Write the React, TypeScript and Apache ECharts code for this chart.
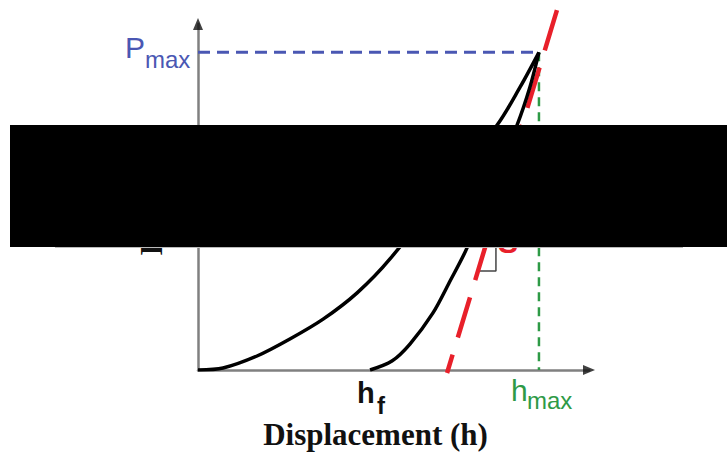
import React, { useEffect, useRef } from "react";
import * as echarts from "echarts";

// Loading curve (displacement h, load P) in relative units
const loadH = [0, 6.4, 15.1, 23.5, 32.0, 40.7, 49.1, 76.5, 82.4, 87.2];
const loadP = [0, 0.58, 4.05, 8.96, 14.7, 22.3, 32.1, 70.8, 81.8, 91.8];
// Unloading curve
const unloadH = [44.0, 49.6, 54.2, 60.1, 64.5, 68.8, 81.6, 84.9, 87.2];
const unloadP = [0, 2.6, 7.5, 16.5, 25.8, 35.3, 70.8, 81.8, 91.8];
// Tangent (stiffness S) line
const tangentH = [91.8, 63.7];
const tangentP = [104.0, -0.87];
// Key values
const hMax = 87.2;
const pMax = 91.8;
const axisMax = 100;
// Slope triangle
const triH = [76.2, 76.2, 71.9];
const triP = [46.2, 28.6, 28.6];

const zip = (a: number[], b: number[]) => a.map((v, i) => [v, b[i]]);

const SANS = "'Liberation Sans', Arial, Helvetica, sans-serif";
const SERIF = "'Liberation Serif', 'Times New Roman', serif";
const BLUE = "#4a57b3";
const GREEN = "#2e9a46";
const RED = "#e8202a";

export default function App() {
  const ref = useRef<HTMLDivElement>(null);
  useEffect(() => {
    if (!ref.current) return;
    const chart = echarts.init(ref.current, null, { renderer: "svg" });
    const axisCommon = {
      type: "value" as const,
      min: 0,
      max: axisMax,
      axisLabel: { show: false },
      axisTick: { show: false },
      splitLine: { show: false },
      axisLine: { show: true, lineStyle: { color: "#808080", width: 2.5 } },
    };
    chart.setOption({
      animation: false,
      backgroundColor: "#ffffff",
      grid: { left: 198, right: 138, top: 24, bottom: 82 },
      xAxis: { ...axisCommon },
      yAxis: { ...axisCommon },
      series: [
        {
          name: "Pmax",
          type: "line",
          data: [[0, pMax], [hMax, pMax]],
          symbol: "none",
          lineStyle: { color: BLUE, width: 3, type: [12, 7] },
          z: 3,
        },
        {
          name: "hmax",
          type: "line",
          data: [[hMax, pMax], [hMax, 0]],
          symbol: "none",
          lineStyle: { color: GREEN, width: 2.5, type: [9, 6] },
          z: 3,
        },
        {
          name: "Tangent",
          type: "line",
          data: zip(tangentH, tangentP),
          symbol: "none",
          clip: false,
          lineStyle: { color: RED, width: 4.5, type: [42, 18] },
          z: 4,
        },
        {
          name: "Slope",
          type: "line",
          data: zip(triH, triP),
          symbol: "none",
          lineStyle: { color: "#444", width: 1.5 },
          z: 3,
        },
        {
          name: "Loading",
          type: "line",
          data: zip(loadH, loadP),
          symbol: "none",
          smooth: 0.3,
          lineStyle: { color: "#000", width: 3.5 },
          z: 5,
        },
        {
          name: "Unloading",
          type: "line",
          data: zip(unloadH, unloadP),
          symbol: "none",
          smooth: 0.3,
          lineStyle: { color: "#000", width: 3.5 },
          z: 5,
        },
        {
          name: "xArrow",
          type: "scatter",
          data: [[axisMax, 0]],
          symbol: "triangle",
          symbolSize: [10, 12],
          symbolRotate: -90,
          clip: false,
          itemStyle: { color: "#111" },
          z: 6,
        },
        {
          name: "yArrow",
          type: "scatter",
          data: [[0, axisMax]],
          symbol: "triangle",
          symbolSize: [10, 12],
          clip: false,
          itemStyle: { color: "#111" },
          z: 6,
        },
      ],
      graphic: [
        { type: "text", z: 10, x: 125, y: 47, style: { text: "P", font: `30px ${SANS}`, fill: BLUE, align: "left", verticalAlign: "middle" } },
        { type: "text", z: 10, x: 145, y: 59, style: { text: "max", font: `24px ${SANS}`, fill: BLUE, align: "left", verticalAlign: "middle" } },
        { type: "text", z: 10, x: 357, y: 393, style: { text: "h", font: `bold 29px ${SANS}`, fill: "#111", align: "left", verticalAlign: "middle" } },
        { type: "text", z: 10, x: 377, y: 405, style: { text: "f", font: `bold 24px ${SANS}`, fill: "#111", align: "left", verticalAlign: "middle" } },
        { type: "text", z: 10, x: 511, y: 390, style: { text: "h", font: `30px ${SANS}`, fill: GREEN, align: "left", verticalAlign: "middle" } },
        { type: "text", z: 10, x: 527, y: 400, style: { text: "max", font: `24px ${SANS}`, fill: GREEN, align: "left", verticalAlign: "middle" } },
        { type: "text", z: 10, x: 375.5, y: 434, style: { text: "Displacement (h)", font: `bold 31px ${SERIF}`, fill: "#111", align: "center", verticalAlign: "middle" } },
        { type: "text", z: 10, x: 151.5, y: 197, rotation: Math.PI / 2, style: { text: "Load (P)", font: `bold 31px ${SERIF}`, fill: "#111", align: "center", verticalAlign: "middle" } },
        { type: "text", z: 10, x: 508, y: 242, style: { text: "S", font: `bold 30px ${SANS}`, fill: RED, align: "center", verticalAlign: "middle" } },
        { type: "rect", z: 100, shape: { x: 10, y: 125, width: 717, height: 122 }, style: { fill: "#000" } },
        { type: "line", z: 100, shape: { x1: 55, y1: 247.5, x2: 683, y2: 247.5 }, style: { stroke: "#bbbbbb", lineWidth: 1 } },
      ],
    });
    return () => chart.dispose();
  }, []);
  return (
    <div
      ref={ref}
      style={{ position: "fixed", left: 0, top: 0, width: 727, height: 452, background: "#fff" }}
    />
  );
}
